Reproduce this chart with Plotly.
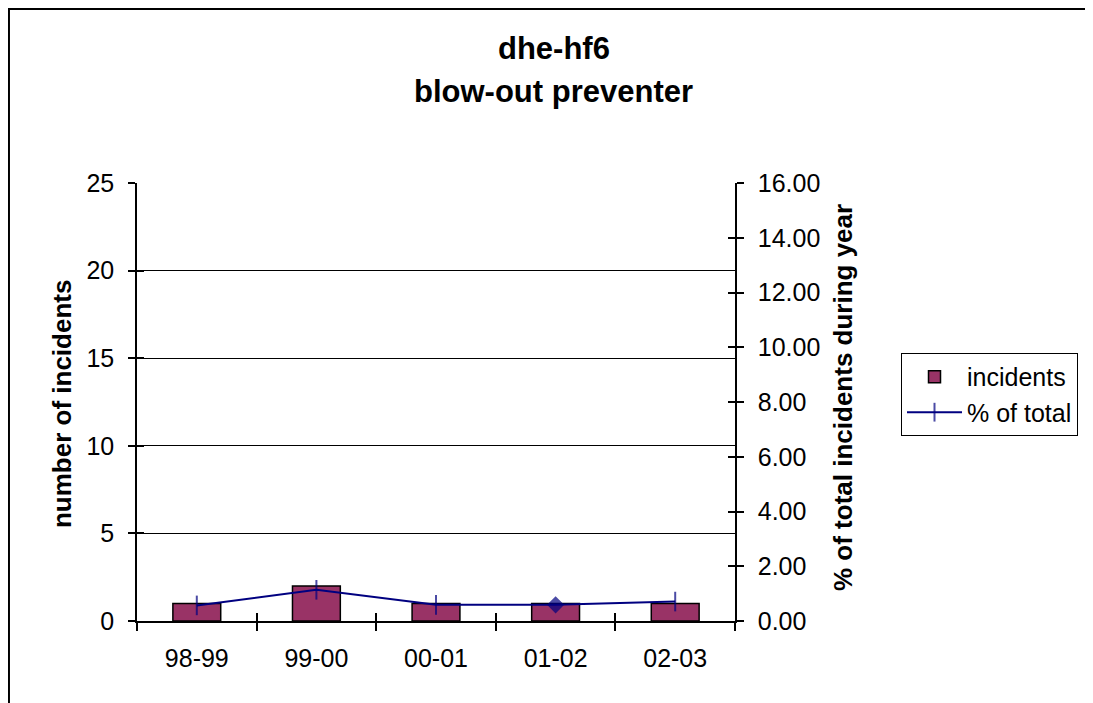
import plotly.graph_objects as go

years = ['98-99', '99-00', '00-01', '01-02', '02-03']
incidents = [1, 2, 1, 1, 1]
pct_total = [0.57, 1.14, 0.59, 0.59, 0.71]

FONT = 'Arial, Liberation Sans, sans-serif'
BAR = '#993366'
NAVY = '#000080'

bars = go.Bar(x=years, y=incidents, name='incidents',
              marker=dict(color=BAR, line=dict(color='black', width=1.5)),
              xaxis='x', yaxis='y')

pct = go.Scatter(x=years, y=pct_total, name='% of total', mode='lines+markers',
                 line=dict(color=NAVY, width=2),
                 marker=dict(symbol=['line-ns', 'line-ns', 'line-ns', 'diamond', 'line-ns'],
                             size=[14, 14, 14, 11, 14], color=NAVY,
                             line=dict(color=NAVY, width=2)),
                 xaxis='x', yaxis='y2')

# invisible helpers so the inner-tick overlay axes get drawn
ghost_x = go.Scatter(x=years, y=incidents, mode='markers', opacity=0,
                     showlegend=False, hoverinfo='skip', xaxis='x2', yaxis='y3')
ghost_y = go.Scatter(x=years, y=pct_total, mode='markers', opacity=0,
                     showlegend=False, hoverinfo='skip', xaxis='x', yaxis='y4')

tick_font = dict(family=FONT, size=25, color='black')


def label(text, x, y, size, angle=0):
    return dict(text=text, xref='paper', yref='paper', x=x, y=y,
                xanchor='center', yanchor='middle', textangle=angle,
                showarrow=False, font=dict(family=FONT, size=size, color='black'))


# page has an 8px body margin, so the figure is 8px smaller than the window
layout = go.Layout(
    width=1085, height=695,
    margin=dict(l=129, r=358, t=175, b=82),
    paper_bgcolor='white', plot_bgcolor='white',
    font=dict(family=FONT, color='black'),
    bargap=0.6,
    showlegend=True,
    xaxis=dict(type='category', categoryarray=years, tickson='boundaries',
               ticks='outside', ticklen=8, tickwidth=1.5, tickcolor='black',
               showline=True, linecolor='black', linewidth=1.5,
               showgrid=False, tickfont=tick_font, ticklabelstandoff=14, anchor='y'),
    xaxis2=dict(type='category', categoryarray=years, tickson='boundaries',
                overlaying='x', ticks='inside', ticklen=8, tickwidth=1.5,
                tickcolor='black', showticklabels=False, showgrid=False,
                showline=False, anchor='y', matches='x'),
    yaxis=dict(range=[0, 25], dtick=5, ticks='outside', ticklen=7, tickwidth=1.5,
               tickcolor='black', showline=True, linecolor='black', linewidth=1.5,
               showgrid=True, gridcolor='black', gridwidth=1.2, zeroline=False,
               tickfont=tick_font, ticklabelstandoff=9),
    yaxis3=dict(range=[0, 25], dtick=5, overlaying='y', ticks='inside', ticklen=7,
                tickwidth=1.5, tickcolor='black', showticklabels=False,
                showgrid=False, zeroline=False, showline=False, anchor='x2'),
    yaxis2=dict(range=[0, 16], dtick=2, tickformat='.2f', overlaying='y', side='right',
                ticks='outside', ticklen=7, tickwidth=1.5, tickcolor='black',
                showline=True, linecolor='black', linewidth=1.5, showgrid=False,
                zeroline=False, tickfont=tick_font, ticklabelstandoff=9, anchor='x'),
    yaxis4=dict(range=[0, 16], dtick=2, overlaying='y', side='right', ticks='inside',
                ticklen=7, tickwidth=1.5, tickcolor='black', showticklabels=False,
                showgrid=False, zeroline=False, showline=False, anchor='x'),
    legend=dict(x=1.2776, y=0.612, xanchor='left', yanchor='top',
                bordercolor='black', borderwidth=1, bgcolor='white',
                itemwidth=55,
                font=dict(family=FONT, size=25, color='black')),
    annotations=[
        label('<b>dhe-hf6</b>', 0.697, 1.306, 31),
        label('<b>blow-out preventer</b>', 0.697, 1.2078, 31),
        label('<b>number of incidents</b>', -0.1254, 0.4954, 26, -90),
        label('<b>% of total incidents during year</b>', 1.1806, 0.5114, 26, -90),
    ],
    shapes=[dict(type='rect', xref='paper', yref='paper',
                 x0=-0.2141, x1=1.75, y0=-0.3, y1=1.3973,
                 line=dict(color='black', width=2))],
)

fig = go.Figure(data=[bars, pct, ghost_x, ghost_y], layout=layout)
fig.write_html('out.html')
